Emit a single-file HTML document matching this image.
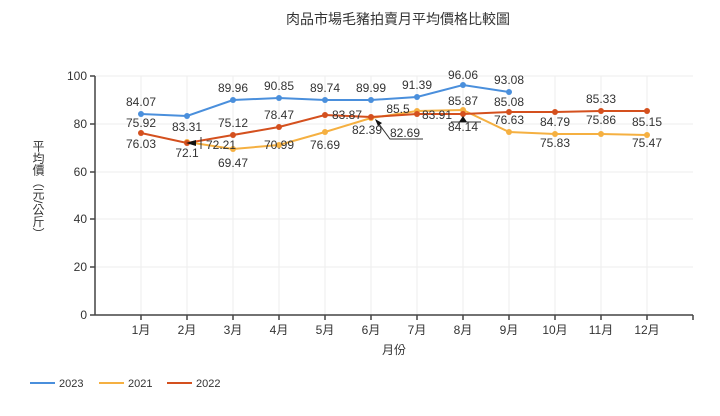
<!DOCTYPE html>
<html><head><meta charset="utf-8"><style>
body{margin:0;background:#fff;}
svg text{font-family:"Liberation Sans","Noto Sans CJK TC",sans-serif;fill:#333;}
</style></head><body>
<svg width="720" height="411" viewBox="0 0 720 411" xmlns="http://www.w3.org/2000/svg">
<text x="398" y="24" font-size="14" text-anchor="middle" fill="#222">肉品市場毛豬拍賣月平均價格比較圖</text>
<g stroke="#eee" stroke-width="1">
<line x1="95" y1="76" x2="693" y2="76"/><line x1="95" y1="124" x2="693" y2="124"/><line x1="95" y1="172" x2="693" y2="172"/><line x1="95" y1="219" x2="693" y2="219"/><line x1="95" y1="267" x2="693" y2="267"/>
<line x1="141" y1="76" x2="141" y2="315"/><line x1="187" y1="76" x2="187" y2="315"/><line x1="233" y1="76" x2="233" y2="315"/><line x1="279" y1="76" x2="279" y2="315"/><line x1="325" y1="76" x2="325" y2="315"/><line x1="371" y1="76" x2="371" y2="315"/><line x1="417" y1="76" x2="417" y2="315"/><line x1="463" y1="76" x2="463" y2="315"/><line x1="509" y1="76" x2="509" y2="315"/><line x1="555" y1="76" x2="555" y2="315"/><line x1="601" y1="76" x2="601" y2="315"/><line x1="647" y1="76" x2="647" y2="315"/>
</g>
<g stroke="#444" stroke-width="1.5">
<line x1="95" y1="76" x2="95" y2="315"/><line x1="95" y1="315" x2="693" y2="315"/>
<line x1="90" y1="76" x2="95" y2="76"/><line x1="90" y1="124" x2="95" y2="124"/><line x1="90" y1="172" x2="95" y2="172"/><line x1="90" y1="219" x2="95" y2="219"/><line x1="90" y1="267" x2="95" y2="267"/><line x1="90" y1="315" x2="95" y2="315"/>
<line x1="141" y1="315" x2="141" y2="320"/><line x1="187" y1="315" x2="187" y2="320"/><line x1="233" y1="315" x2="233" y2="320"/><line x1="279" y1="315" x2="279" y2="320"/><line x1="325" y1="315" x2="325" y2="320"/><line x1="371" y1="315" x2="371" y2="320"/><line x1="417" y1="315" x2="417" y2="320"/><line x1="463" y1="315" x2="463" y2="320"/><line x1="509" y1="315" x2="509" y2="320"/><line x1="555" y1="315" x2="555" y2="320"/><line x1="601" y1="315" x2="601" y2="320"/><line x1="647" y1="315" x2="647" y2="320"/><line x1="693" y1="315" x2="693" y2="320"/>
</g>
<g font-size="12" text-anchor="end">
<text x="87" y="80">100</text><text x="87" y="128">80</text><text x="87" y="176">60</text><text x="87" y="223">40</text><text x="87" y="271">20</text><text x="87" y="319">0</text>
</g>
<g font-size="12" text-anchor="middle">
<text x="141" y="334">1月</text><text x="187" y="334">2月</text><text x="233" y="334">3月</text><text x="279" y="334">4月</text><text x="325" y="334">5月</text><text x="371" y="334">6月</text><text x="417" y="334">7月</text><text x="463" y="334">8月</text><text x="509" y="334">9月</text><text x="555" y="334">10月</text><text x="601" y="334">11月</text><text x="647" y="334">12月</text>
<text x="394" y="354">月份</text>
</g>
<text font-size="12" x="38" y="140" writing-mode="tb" style="writing-mode:vertical-rl" text-anchor="start">平均價（元/公斤）</text>
<!-- 2021 orange -->
<polyline fill="none" stroke="#f5b041" stroke-width="2" points="187,142 233,149 279,145 325,132 371,118 417,111 463,110 509,132 555,134 601,134 647,135"/>
<g fill="#f5b041"><circle cx="187" cy="142" r="3"/><circle cx="233" cy="149" r="3"/><circle cx="279" cy="145" r="3"/><circle cx="325" cy="132" r="3"/><circle cx="371" cy="118" r="3"/><circle cx="417" cy="111" r="3"/><circle cx="463" cy="110" r="3"/><circle cx="509" cy="132" r="3"/><circle cx="555" cy="134" r="3"/><circle cx="601" cy="134" r="3"/><circle cx="647" cy="135" r="3"/></g>
<!-- 2022 red -->
<polyline fill="none" stroke="#d4501e" stroke-width="2" points="141,133 187,143 233,135 279,127 325,115 371,117 417,114 463,114 509,112 555,112 601,111 647,111"/>
<g fill="#d4501e"><circle cx="141" cy="133" r="3"/><circle cx="187" cy="143" r="3"/><circle cx="233" cy="135" r="3"/><circle cx="279" cy="127" r="3"/><circle cx="325" cy="115" r="3"/><circle cx="371" cy="117" r="3"/><circle cx="417" cy="114" r="3"/><circle cx="463" cy="114" r="3"/><circle cx="509" cy="112" r="3"/><circle cx="555" cy="112" r="3"/><circle cx="601" cy="111" r="3"/><circle cx="647" cy="111" r="3"/></g>
<!-- 2023 blue -->
<polyline fill="none" stroke="#4a8fdc" stroke-width="2" points="141,114 187,116 233,100 279,98 325,100 371,100 417,97 463,85 509,92"/>
<g fill="#4a8fdc"><circle cx="141" cy="114" r="3"/><circle cx="187" cy="116" r="3"/><circle cx="233" cy="100" r="3"/><circle cx="279" cy="98" r="3"/><circle cx="325" cy="100" r="3"/><circle cx="371" cy="100" r="3"/><circle cx="417" cy="97" r="3"/><circle cx="463" cy="85" r="3"/><circle cx="509" cy="92" r="3"/></g>
<g stroke="#333" fill="none" stroke-width="1"><polyline points="376,120 390,139 423,139"/><polyline points="451,122 481,122"/><line x1="201" y1="137" x2="201" y2="149"/></g>
<polygon points="186,143 196,140 196,146" fill="#111"/><polygon points="463,116 459,122 467,122" fill="#111"/><polygon points="375,119 382,123 378,126" fill="#111"/>
<g font-size="12" text-anchor="middle">
<text x="141" y="106">84.07</text><text x="187" y="131">83.31</text><text x="233" y="92">89.96</text><text x="279" y="90">90.85</text><text x="325" y="92">89.74</text><text x="371" y="92">89.99</text><text x="417" y="89">91.39</text><text x="463" y="79">96.06</text><text x="509" y="84">93.08</text>
<text x="141" y="127">75.92</text><text x="141" y="148">76.03</text><text x="187" y="157">72.1</text><text x="221" y="149">72.21</text><text x="233" y="127">75.12</text><text x="233" y="167">69.47</text><text x="279" y="119">78.47</text><text x="279" y="149">70.99</text><text x="325" y="149">76.69</text><text x="347" y="119">83.87</text><text x="367" y="134">82.39</text><text x="405" y="137">82.69</text><text x="398" y="113">85.5</text><text x="437" y="119">83.91</text><text x="463" y="105">85.87</text><text x="463" y="131">84.14</text><text x="509" y="106">85.08</text><text x="509" y="124">76.63</text><text x="555" y="126">84.79</text><text x="555" y="147">75.83</text><text x="601" y="103">85.33</text><text x="601" y="124">75.86</text><text x="647" y="126">85.15</text><text x="647" y="147">75.47</text>
</g>
<g stroke-width="2"><line x1="30" y1="383" x2="55" y2="383" stroke="#4a8fdc"/><line x1="99" y1="383" x2="124" y2="383" stroke="#f5b041"/><line x1="167" y1="383" x2="192" y2="383" stroke="#d4501e"/></g>
<g font-size="11"><text x="59" y="387">2023</text><text x="128" y="387">2021</text><text x="196" y="387">2022</text></g>
</svg>
</body></html>
